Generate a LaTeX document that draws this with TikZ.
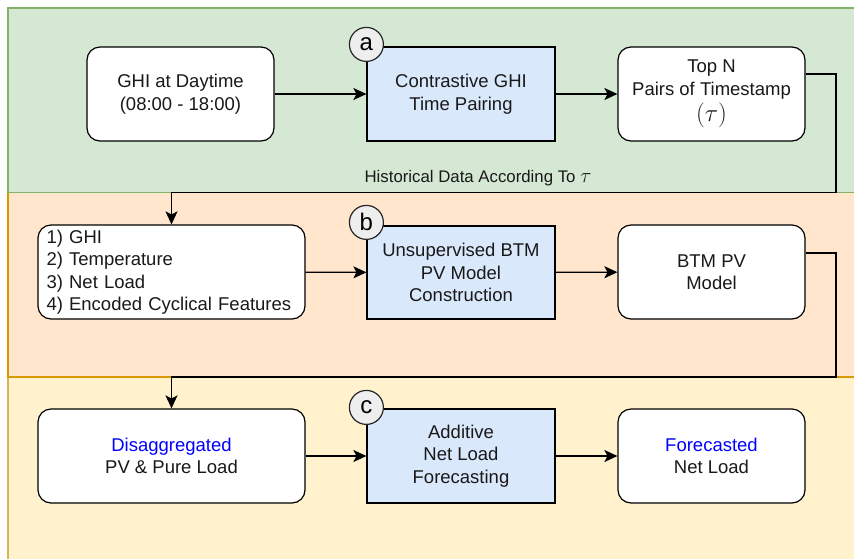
\documentclass[tikz,border=0pt]{standalone}
\usepackage{fontspec}
\setmainfont{Liberation Sans}
\usetikzlibrary{arrows.meta,positioning}
\definecolor{gfill}{HTML}{D5E8D4}
\definecolor{gline}{HTML}{82B366}
\definecolor{ofill}{HTML}{FFE6CC}
\definecolor{oline}{HTML}{D79B00}
\definecolor{yfill}{HTML}{FFF2CC}
\definecolor{yline}{HTML}{D6B656}
\definecolor{bfill}{HTML}{DAE8FC}
\definecolor{cfill}{HTML}{EEEEEE}
\definecolor{txtblue}{HTML}{0000FF}
\tikzset{
  base/.style={draw=black, line width=1.2pt, align=center, inner sep=2pt,
    font=\fontsize{18.5}{22.5}\selectfont, text=black!90},
  rbox/.style={base, fill=white, rounded corners=13pt},
  bbox/.style={base, fill=bfill},
  circ/.style={circle, draw=black!85, line width=1.2pt, fill=cfill, minimum size=34pt,
    inner sep=0pt, font=\fontsize{24}{24}\selectfont},
  arr/.style={line width=1.2pt, -{Stealth[length=13pt,width=12pt,inset=3pt]}},
}
\begin{document}
\begin{tikzpicture}[x=1pt,y=-1pt]
\useasboundingbox (0,0) rectangle (854,558);
% panels
\fill[white] (0,0) rectangle (854,558);
\draw[fill=yfill, draw=yline, line width=1.2pt] (8,377) rectangle (870,575);
\draw[fill=ofill, draw=oline, line width=1.2pt] (8,192.5) rectangle (870,377);
\draw[fill=gfill, draw=gline, line width=1.2pt] (8,8) rectangle (870,192.5);
% row a
\node[rbox, minimum width=187pt, minimum height=94pt] (ghi) at (180.5,94)
  {GHI at Daytime\\(08:00 - 18:00)};
\node[bbox, minimum width=188pt, minimum height=94pt] (ctr) at (461,94)
  {Contrastive GHI\\Time Pairing};
\node[rbox, minimum width=187pt, minimum height=94pt] (topn) at (711.5,94)
  {Top N\\Pairs of Timestamp\\[4pt]{\fontsize{23}{23}\selectfont$(\tau)$}};
\node[circ] (ca) at ([yshift=2pt]ctr.north west) {a};
% row b
\node[rbox, minimum width=267pt, minimum height=94pt, align=left, text width=250pt] (lst) at (171.5,272)
  {1) GHI\\2) Temperature\\3) Net Load\\4) Encoded Cyclical Features};
\node[bbox, minimum width=188pt, minimum height=93pt] (uns) at (461,272.5)
  {Unsupervised BTM\\PV Model\\Construction};
\node[rbox, minimum width=187pt, minimum height=94pt] (btm) at (711.5,272)
  {BTM PV\\Model};
\node[circ] (cb) at ([yshift=3pt]uns.north west) {b};
% row c
\node[rbox, minimum width=267pt, minimum height=94pt] (dis) at (171.5,456)
  {\textcolor{txtblue}{Disaggregated}\\PV \& Pure Load};
\node[bbox, minimum width=188pt, minimum height=94pt] (add) at (461,456)
  {Additive\\Net Load\\Forecasting};
\node[rbox, minimum width=187pt, minimum height=94pt] (fc) at (711.5,456)
  {\textcolor{txtblue}{Forecasted}\\Net Load};
\node[circ] (cc) at ([yshift=1pt]add.north west) {c};
% connectors
\draw[arr] (ghi) -- (ctr);
\draw[arr] (ctr) -- (topn);
\draw[arr] (lst) -- (uns);
\draw[arr] (uns) -- (btm);
\draw[arr] (dis) -- (add);
\draw[arr] (add) -- (fc);
\coordinate (k1) at (836,192.5);
\coordinate (k2) at (836,377);
\draw[arr] ([yshift=20pt]topn.east) -| (k1) -| (lst.north);
\draw[arr] ([yshift=19pt]btm.east) -| (k2) -| (dis.north);
\node[font=\fontsize{16.8}{18}\selectfont, text=black!90] (lbl) at (478,178)
  {Historical Data According To {\fontsize{22}{22}\selectfont$\tau$}};
\end{tikzpicture}
\end{document}
